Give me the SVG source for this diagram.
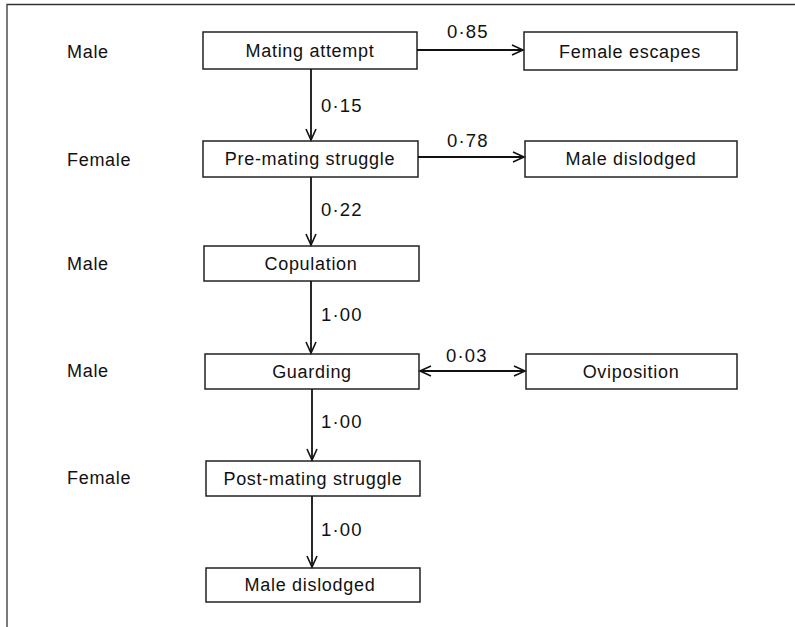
<svg xmlns="http://www.w3.org/2000/svg" width="795" height="627" viewBox="0 0 795 627">
<style>
.box{fill:#fff;stroke:#222;stroke-width:1.5}
.t{font-family:"Liberation Sans",Arial,sans-serif;font-size:18px;letter-spacing:0.7px;fill:#111;text-anchor:middle}
.lab{font-family:"Liberation Sans",Arial,sans-serif;font-size:18px;letter-spacing:0.7px;fill:#111}
.num{font-family:"Liberation Sans",Arial,sans-serif;font-size:18.5px;letter-spacing:1.2px;fill:#111}
.c{stroke:#111;stroke-width:1.8;fill:none}
</style>
<defs>
<marker id="ah" markerWidth="14" markerHeight="14" refX="12" refY="6" orient="auto-start-reverse" markerUnits="userSpaceOnUse">
<path d="M1,1 L12,6 L1,11" fill="none" stroke="#111" stroke-width="1.6"/>
</marker>
</defs>
<rect width="795" height="627" fill="#fff"/>
<polyline points="7,627 7,4.5 795,4.5" fill="none" stroke="#333" stroke-width="1.3"/>
<g id="roles">
<text class="lab" x="67" y="58">Male</text>
<text class="lab" x="67" y="166">Female</text>
<text class="lab" x="67" y="270">Male</text>
<text class="lab" x="67" y="377">Male</text>
<text class="lab" x="67" y="484">Female</text>
</g>
<g id="n-mating-attempt"><rect class="box" x="203" y="32" width="214" height="37"/><text class="t" x="310" y="57">Mating attempt</text></g>
<g id="n-female-escapes"><rect class="box" x="524" y="32" width="213" height="38"/><text class="t" x="630" y="58">Female escapes</text></g>
<g id="n-pre-mating"><rect class="box" x="203" y="141" width="215" height="36"/><text class="t" x="310" y="165">Pre-mating struggle</text></g>
<g id="n-male-dislodged-1"><rect class="box" x="525" y="141" width="212" height="36"/><text class="t" x="631" y="165">Male dislodged</text></g>
<g id="n-copulation"><rect class="box" x="204" y="246" width="215" height="35"/><text class="t" x="311" y="270">Copulation</text></g>
<g id="n-guarding"><rect class="box" x="205" y="354" width="214" height="35"/><text class="t" x="312" y="378">Guarding</text></g>
<g id="n-oviposition"><rect class="box" x="526" y="354" width="211" height="35"/><text class="t" x="631" y="378">Oviposition</text></g>
<g id="n-post-mating"><rect class="box" x="206" y="461" width="214" height="35"/><text class="t" x="313" y="485">Post-mating struggle</text></g>
<g id="n-male-dislodged-2"><rect class="box" x="206" y="568" width="214" height="34"/><text class="t" x="310" y="591">Male dislodged</text></g>
<g id="connectors">
<line class="c" x1="311" y1="69" x2="311" y2="140" marker-end="url(#ah)"/>
<line class="c" x1="311" y1="177" x2="311" y2="245" marker-end="url(#ah)"/>
<line class="c" x1="311" y1="281" x2="311" y2="353" marker-end="url(#ah)"/>
<line class="c" x1="312" y1="389" x2="312" y2="460" marker-end="url(#ah)"/>
<line class="c" x1="312" y1="496" x2="312" y2="567" marker-end="url(#ah)"/>
<line class="c" x1="417" y1="50" x2="523" y2="50" marker-end="url(#ah)"/>
<line class="c" x1="418" y1="157" x2="524" y2="157" marker-end="url(#ah)"/>
<line class="c" x1="420" y1="371" x2="525" y2="371" marker-start="url(#ah)" marker-end="url(#ah)"/>
<text class="num" x="321" y="112">0·15</text>
<text class="num" x="321" y="216">0·22</text>
<text class="num" x="321" y="321">1·00</text>
<text class="num" x="321" y="428">1·00</text>
<text class="num" x="321" y="536">1·00</text>
<text class="num" x="447" y="38">0·85</text>
<text class="num" x="447" y="147">0·78</text>
<text class="num" x="446" y="362">0·03</text>
</g>
</svg>
